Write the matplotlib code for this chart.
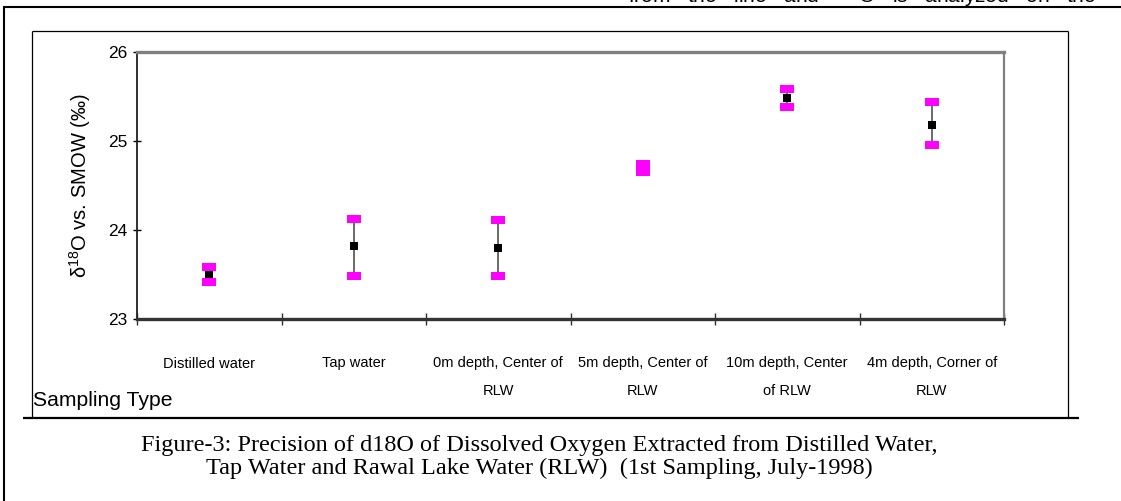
import matplotlib
matplotlib.use("Agg")
import matplotlib.pyplot as plt
from matplotlib import font_manager
from matplotlib.lines import Line2D
from matplotlib.path import Path
import numpy as np

# ---------------- data ----------------
categories = ["Distilled water", "Tap water", "0m depth, Center of\nRLW",
              "5m depth, Center of\nRLW", "10m depth, Center\nof RLW",
              "4m depth, Corner of\nRLW"]
high_vals = [23.58, 24.12, 24.11, 24.74, 25.58, 25.44]
low_vals = [23.42, 23.48, 23.48, 24.65, 25.38, 24.95]
mean_vals = [23.49, 23.815, 23.80, 24.68, 25.48, 25.18]
y_ticks = [23, 24, 25, 26]
y_label = "δ$^{18}$O vs. SMOW (‰)"
x_title = "Sampling Type"
caption = ("Figure-3: Precision of d18O of Dissolved Oxygen Extracted from Distilled Water,\n"
           "Tap Water and Rawal Lake Water (RLW)  (1st Sampling, July-1998)")
top_text = "from   the   line   and    $^{18}$O   is   analyzed   on   the"

names = {f.name for f in font_manager.fontManager.ttflist}
SANS = "Liberation Sans" if "Liberation Sans" in names else "DejaVu Sans"
NARROW = "Liberation Sans Narrow" if "Liberation Sans Narrow" in names else SANS
SERIF = "Liberation Serif" if "Liberation Serif" in names else "DejaVu Serif"

plt.rcParams["font.family"] = [SANS, "DejaVu Sans"]
plt.rcParams["mathtext.fontset"] = "custom"
plt.rcParams["mathtext.rm"] = SANS
plt.rcParams["mathtext.it"] = SANS
plt.rcParams["mathtext.bf"] = SANS

W, H = 1121, 501
fig = plt.figure(figsize=(W / 100, H / 100), dpi=100)
fig.patch.set_facecolor("white")


def fx(x):
    return x / W


def fy(y):
    return 1 - y / H


# plot area (pixels): left 137, right 1004, top 52, bottom 319
AX_L, AX_R, AX_T, AX_B = 137, 1004, 52, 319
ax = fig.add_axes([fx(AX_L), fy(AX_B), (AX_R - AX_L) / W, (AX_B - AX_T) / H])
n = len(categories)
xs = np.arange(n)

ax.vlines(xs, low_vals, high_vals, color="#505050", lw=1.2, zorder=2)
ax.plot(xs, mean_vals, ls="none", marker="s", ms=6.2, mfc="black",
        mec="black", mew=0, zorder=3)
cap = Path([(-1, -0.56), (1, -0.56), (1, 0.56), (-1, 0.56), (-1, -0.56)],
           [Path.MOVETO, Path.LINETO, Path.LINETO, Path.LINETO, Path.CLOSEPOLY])
ax.plot(xs, high_vals, ls="none", marker=cap, ms=10.6, mfc="#FF00FF",
        mec="#FF00FF", mew=0, zorder=4)
ax.plot(xs, low_vals, ls="none", marker=cap, ms=10.6, mfc="#FF00FF",
        mec="#FF00FF", mew=0, zorder=4)

ax.set_xlim(-0.5, n - 0.5)
ax.set_ylim(23, 26)
ax.set_yticks(y_ticks)
ax.set_yticklabels([str(v) for v in y_ticks], fontsize=12.5, family=SANS)
ax.tick_params(axis="y", direction="inout", length=6, width=1, pad=4,
               color="black")

ax.set_xticks(np.arange(-0.5, n, 1.0))
ax.set_xticklabels([])
ax.tick_params(axis="x", which="major", direction="inout", length=9,
               width=1, color="#303030")
ax.set_xticks(xs, minor=True)
ax.set_xticklabels(categories, minor=True, fontsize=10.5, family=SANS,
                   linespacing=2.2)
ax.tick_params(axis="x", which="minor", length=0, pad=27)

ax.spines["top"].set_color("#808080")
ax.spines["top"].set_linewidth(2.4)
ax.spines["right"].set_color("#808080")
ax.spines["right"].set_linewidth(1.6)
ax.spines["left"].set_color("#202020")
ax.spines["left"].set_linewidth(1.3)
ax.spines["bottom"].set_color("#333333")
ax.spines["bottom"].set_linewidth(2.4)

ax.set_ylabel(y_label, fontsize=14.5, family=SANS)
ax.yaxis.set_label_coords((93 - AX_L) / (AX_R - AX_L), 0.5)

# x-axis title inside chart frame bottom-left
fig.text(fx(33), fy(401), x_title, fontsize=15.2, family=NARROW,
         ha="left", va="center")

# frames
def fline(x0, y0, x1, y1, lw, color="black"):
    fig.add_artist(Line2D([fx(x0), fx(x1)], [fy(y0), fy(y1)], lw=lw,
                          color=color, solid_capstyle="butt"))

# outer frame (top & left)
fline(3, 7, W, 7, 1.5)
fline(3.5, 6.3, 3.5, H, 1.5)
# inner chart frame
fline(32, 31, 1068, 31, 0.9)
fline(32, 31, 32, 418, 0.9)
fline(1068, 31, 1068, 418, 0.9)
fline(23, 418, 1079, 418, 1.6)

# caption
fig.text(fx(539), fy(457), caption, fontsize=17.5, family=SERIF,
         ha="center", va="center", linespacing=1.12)

# cut-off text at the very top
fig.text(fx(628), fy(3), top_text, fontsize=15, family=SANS,
         ha="left", va="baseline")

fig.savefig("out.png", dpi=100, facecolor="white")
